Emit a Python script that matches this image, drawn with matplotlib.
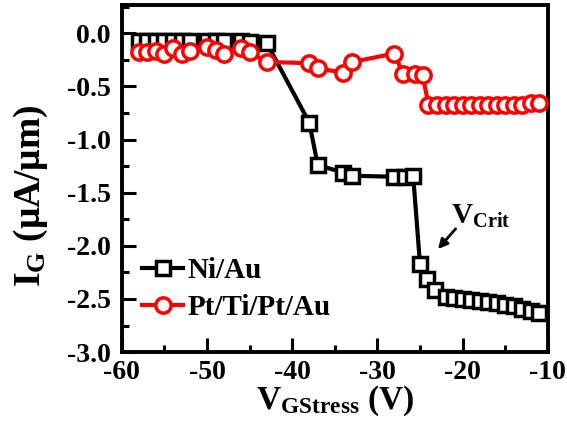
import matplotlib
matplotlib.use("Agg")
import matplotlib.pyplot as plt
from matplotlib.ticker import MultipleLocator, FormatStrFormatter

plt.rcParams["font.family"] = ["Liberation Serif", "DejaVu Serif"]
plt.rcParams["font.weight"] = "bold"
plt.rcParams["axes.unicode_minus"] = False
plt.rcParams["mathtext.fontset"] = "custom"
plt.rcParams["mathtext.rm"] = "Liberation Serif:bold"
plt.rcParams["mathtext.bf"] = "Liberation Serif:bold"
plt.rcParams["mathtext.it"] = "Liberation Serif:bold"

# gate stress voltage (V) and gate current (uA/um)
ni_v = [-58, -57, -56, -55, -54, -53, -52, -50, -49, -48, -46, -45, -43,
        -38, -37, -34, -33, -28, -26.8, -25.8,
        -25, -24.2, -23.2, -22, -21, -20, -19, -18, -17, -16, -15, -14, -13, -12, -11]
ni_i = [-0.07, -0.07, -0.07, -0.07, -0.07, -0.07, -0.07, -0.07, -0.07, -0.07, -0.07, -0.08, -0.09,
        -0.84, -1.24, -1.31, -1.34, -1.35, -1.35, -1.34,
        -2.17, -2.31, -2.42, -2.48, -2.49, -2.50, -2.51, -2.52, -2.53, -2.54, -2.56, -2.57, -2.59, -2.61, -2.63]

pt_v = [-58, -57, -56, -55, -54, -53, -52, -50, -49, -48, -46, -45, -43,
        -38, -37, -34, -33, -28, -27, -25.6, -24.7,
        -24, -23, -22, -21, -20, -19, -18, -17, -16, -15, -14, -13, -12, -11]
pt_i = [-0.18, -0.18, -0.17, -0.19, -0.14, -0.19, -0.17, -0.13, -0.16, -0.19, -0.14, -0.18, -0.27,
        -0.28, -0.33, -0.37, -0.27, -0.19, -0.38, -0.38, -0.39,
        -0.67, -0.67, -0.67, -0.67, -0.67, -0.67, -0.67, -0.67, -0.67, -0.67, -0.67, -0.67, -0.66, -0.66]

fig = plt.figure(figsize=(5.67, 4.32), dpi=100)
ax = fig.add_axes([0.215, 0.185, 0.751, 0.803])

ax.plot(ni_v, ni_i, color="black", linewidth=3, marker="s", markersize=10,
        markerfacecolor="white", markeredgecolor="black", markeredgewidth=2.5,
        label="Ni/Au", zorder=2)
ax.plot(pt_v, pt_i, color="red", linewidth=3, marker="o", markersize=11,
        markerfacecolor="white", markeredgecolor="red", markeredgewidth=2.5,
        label="Pt/Ti/Pt/Au", zorder=3)

ax.set_xlim(-60, -10)
ax.set_ylim(-3.0, 0.265)
ax.xaxis.set_major_locator(MultipleLocator(10))
ax.xaxis.set_minor_locator(MultipleLocator(5))
ax.yaxis.set_major_locator(MultipleLocator(0.5))
ax.yaxis.set_minor_locator(MultipleLocator(0.25))
ax.yaxis.set_major_formatter(FormatStrFormatter("%.1f"))

ax.tick_params(which="both", direction="in", width=2.2, labelsize=20,
               top=False, right=False)
ax.tick_params(which="major", length=10)
ax.tick_params(which="minor", length=5)
ax.tick_params(axis="x", which="major", pad=6)
ax.tick_params(axis="y", which="major", pad=8)
for spine in ax.spines.values():
    spine.set_linewidth(2.8)
for lab in ax.get_xticklabels() + ax.get_yticklabels():
    lab.set_fontweight("bold")

ax.set_xlabel(r"V$_{\mathregular{GStress}}$ (V)", fontsize=24, fontweight="bold")
ax.xaxis.set_label_coords(0.5, -0.09, transform=ax.transAxes)
ax.xaxis.label.set_va("top")
ax.set_ylabel(r"I$_{\mathregular{G}}$ ($\mu$A/$\mu$m)", fontsize=27, fontweight="bold")
ax.yaxis.set_label_coords(-0.168, 0.45, transform=ax.transAxes)

ax.annotate("", xy=(-23.1, -2.05), xytext=(-20.6, -1.82),
            arrowprops=dict(arrowstyle="-|>", color="black", lw=2, mutation_scale=14))
ax.text(-21.3, -1.72, r"V$_{\mathregular{Crit}}$", fontsize=21, fontweight="bold",
        ha="left", va="center")

leg = ax.legend(loc="lower left", bbox_to_anchor=(0.0, 0.03), frameon=False,
                handlelength=1.4, handletextpad=0.15, borderaxespad=0.3,
                labelspacing=0.35, prop={"weight": "bold", "size": 21})

fig.savefig("out.png", dpi=100)
